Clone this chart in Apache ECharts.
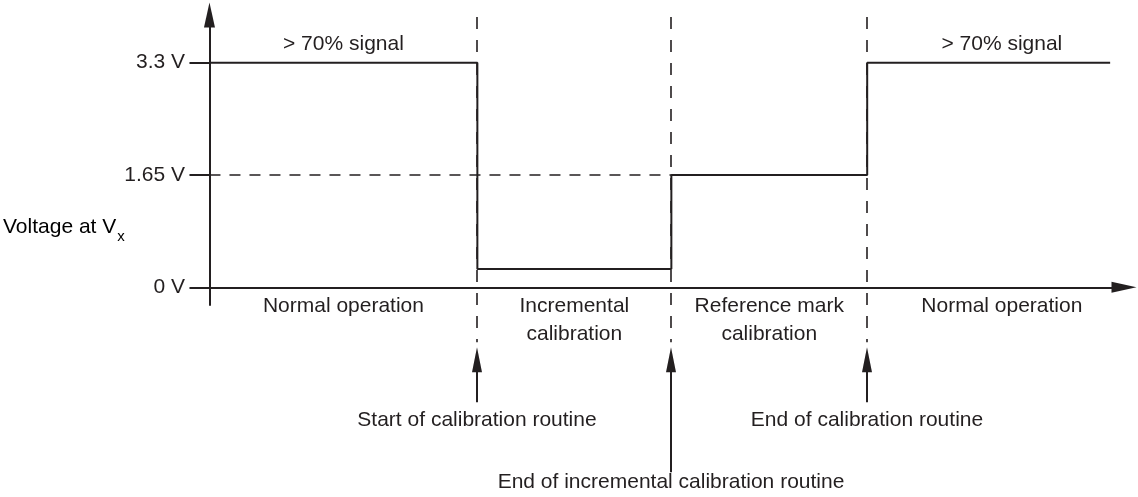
<!doctype html>
<html>
<head>
<meta charset="utf-8">
<title>Calibration routine timing</title>
<script src="https://cdn.jsdelivr.net/npm/echarts@6/dist/echarts.min.js"></script>
<style>
    html,body{
        margin: 0;
        width: 100%;
        height: 100%;
        background: #fff;
    }
    #main{
        width: 1138px;
        height: 497px;
    }
</style>
</head>
<body>
<div id="main"></div>
<script>
    // signal corners (time units, volts)
    var stepTimes = [0, 29, 29, 50, 50, 71.2, 71.2, 97.5];
    var stepVolts = [3.3, 3.3, 0.27, 0.27, 1.65, 1.65, 3.3, 3.3];
    var halfTimes = [0, 50];
    var halfVolts = [1.65, 1.65];
    var boundaries = [29, 50, 71.2];
    var voltTicks = [0, 1.65, 3.3];
    var phaseNames = ['Normal operation', 'Incremental\ncalibration', 'Reference mark\ncalibration', 'Normal operation'];
    var eventNames = ['Start of calibration routine', 'End of incremental calibration routine', 'End of calibration routine'];
    var signalNote = '> 70% signal';

    var ink = '#231f20';
    var font = '"Liberation Sans", Arial, sans-serif';

    function pairs(xs, ys){
        return xs.map(function(x, i){ return [x, ys[i]]; });
    }

    var chart = echarts.init(document.getElementById('main'));

    chart.setOption({
        animation: false,
        grid: {left: 191, right: 14, top: 15, bottom: 192, outerBoundsMode: 'none'},
        xAxis: {
            type: 'value', min: -2, max: 99,
            axisLine: {onZero: true, symbol: ['none', 'triangle'], symbolSize: [11, 25],
                lineStyle: {color: ink, width: 2}},
            axisTick: {show: false},
            axisLabel: {show: false},
            splitLine: {show: false}
        },
        yAxis: {
            type: 'value', min: -0.26, max: 4.0,
            axisLine: {show: true, onZero: true, symbol: ['none', 'triangle'], symbolSize: [11, 25],
                lineStyle: {color: ink, width: 2}},
            axisTick: {show: true, customValues: voltTicks, length: 20, lineStyle: {color: ink, width: 2}},
            axisLabel: {customValues: voltTicks, margin: 6, color: ink, fontSize: 21, fontFamily: font,
                formatter: function(v){ return v + ' V'; }},
            splitLine: {show: false}
        },
        series: [
            {
                type: 'line', data: pairs(stepTimes, stepVolts), symbol: 'none',
                lineStyle: {color: ink, width: 2}, z: 5
            },
            {
                type: 'line', data: pairs(halfTimes, halfVolts), symbol: 'none',
                lineStyle: {color: ink, width: 1.6, type: [11, 9]}
            }
        ]
    });

    // annotations placed from the axis scales
    var toPx = function(x, y){ return chart.convertToPixel({gridIndex: 0}, [x, y]); };
    var zeroY = toPx(0, 0)[1];
    var topY = toPx(0, 3.3)[1];
    var gridBox = chart.getModel().getComponent('grid').coordinateSystem.getRect();
    var tipX = gridBox.x + gridBox.width + 12.5;

    var edges = [toPx(0, 0)[0]];
    boundaries.forEach(function(b){ edges.push(toPx(b, 0)[0]); });
    edges.push(tipX);

    var textStyle = function(txt, x, y){
        return {type: 'text', silent: true, style: {text: txt, x: x, y: y, fill: ink,
            font: '21px ' + font, align: 'center', verticalAlign: 'middle'}};
    };

    var g = [];
    boundaries.forEach(function(b, i){
        var x = Math.round(toPx(b, 0)[0]);
        g.push({type: 'line', silent: true, shape: {x1: x, y1: 17, x2: x, y2: zeroY + 55},
            style: {stroke: ink, lineWidth: 1.6, lineDash: [12, 11]}});
        var tip = zeroY + 60;
        g.push({type: 'polygon', silent: true, shape: {points: [[x, tip], [x - 5, tip + 25], [x + 5, tip + 25]]},
            style: {fill: ink}});
        var tail = i === 1 ? zeroY + 185 : zeroY + 115;
        g.push({type: 'line', silent: true, shape: {x1: x, y1: tip + 20, x2: x, y2: tail},
            style: {stroke: ink, lineWidth: 2}});
        var ty = i === 1 ? zeroY + 195 : zeroY + 133;
        g.push(textStyle(eventNames[i], x, ty));
    });

    phaseNames.forEach(function(name, i){
        var cx = (edges[i] + edges[i + 1]) / 2;
        name.split('\n').forEach(function(line, j){
            g.push(textStyle(line, cx, zeroY + 19 + 28 * j));
        });
    });

    g.push(textStyle(signalNote, (edges[0] + edges[1]) / 2, topY - 18));
    g.push(textStyle(signalNote, (edges[3] + edges[4]) / 2, topY - 18));

    g.push({type: 'text', silent: true, style: {
        x: 3, y: 227, verticalAlign: 'middle',
        text: '{a|Voltage at V}{s|x}',
        rich: {
            a: {fontSize: 21, fontFamily: font, color: ink, lineHeight: 34},
            s: {fontSize: 15, fontFamily: font, color: ink, lineHeight: 15, verticalAlign: 'bottom', padding: [0, 0, 0, 1]}
        }
    }});

    chart.setOption({graphic: g});
</script>
</body>
</html>
